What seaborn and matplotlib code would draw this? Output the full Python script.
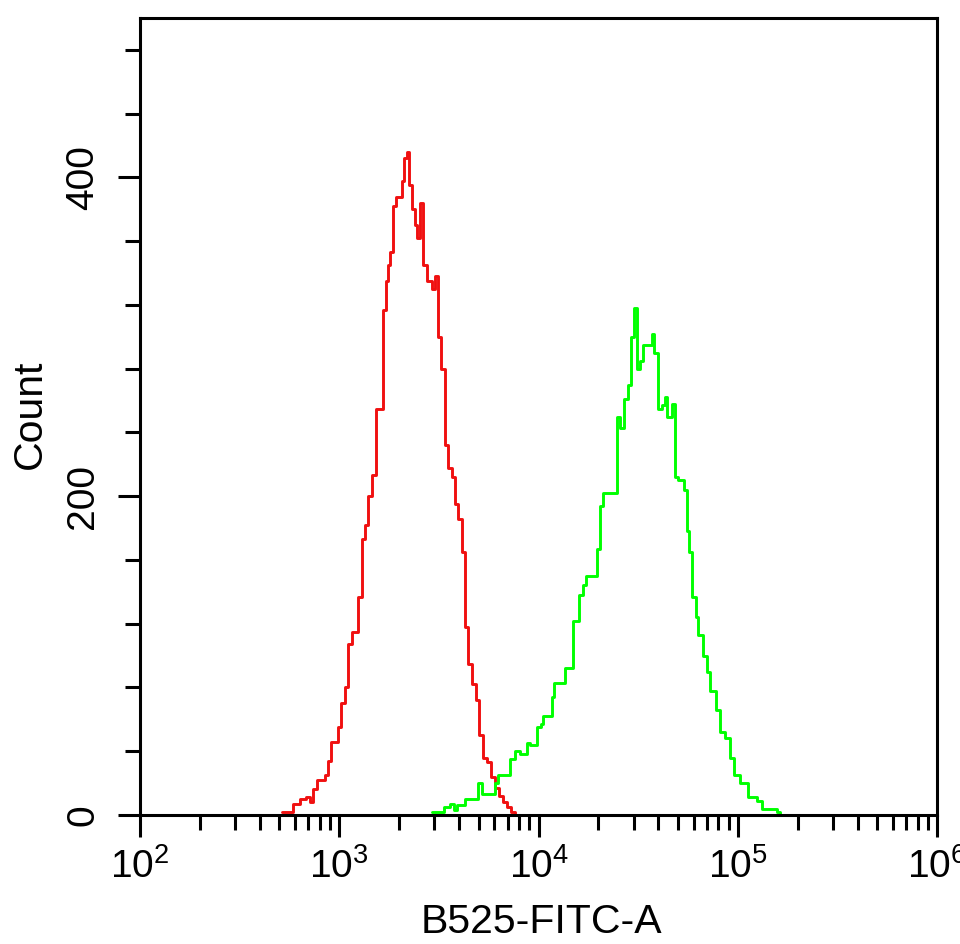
import matplotlib
matplotlib.use("Agg")
import matplotlib.pyplot as plt
import seaborn as sns
import numpy as np
import pandas as pd
from matplotlib.ticker import LogLocator, MultipleLocator, NullFormatter, FixedLocator

# ---- data (bin left edges in B525-FITC-A intensity, counts) ----
red_intensity = [516, 586, 635, 681, 713, 738, 773, 848, 878, 909, 986, 1020, 1069, 1106,
                 1159, 1242, 1301, 1347, 1394, 1460, 1529, 1658, 1716, 1757, 1798, 1861,
                 1927, 2065, 2113, 2188, 2239, 2318, 2400, 2456, 2543, 2633, 2757, 2922,
                 3024, 3131, 3241, 3394, 3514, 3681, 3810, 3945, 4132, 4278, 4430, 4638,
                 4857, 5029, 5266, 5514, 5775, 6047, 6334, 6633, 6947, 7278, 7623]
red_count = [2, 7, 10, 11, 8, 16, 22, 25, 34, 46, 55, 70, 80, 107,
             115, 137, 173, 182, 200, 213, 255, 317, 335, 345, 353, 382,
             388, 398, 412, 416, 395, 380, 370, 362, 384, 345, 335, 330,
             338, 300, 280, 232, 218, 212, 195, 186, 165, 118, 95, 82,
             72, 50, 36, 33, 24, 17, 12, 8, 5, 2, 0]

green_intensity = [2922, 3355, 3596, 3766, 3898, 4278, 4970, 5205, 6047, 6262, 7194, 7623,
                   8074, 8757, 9065, 9828, 10292, 10534, 11687, 11961, 13583, 14897, 15971,
                   16725, 17314, 19663, 20355, 21073, 24774, 25645, 26869, 28140, 29130,
                   30160, 31220, 32317, 33460, 37123, 37997, 39787, 41669, 43142, 44150,
                   46774, 48430, 50130, 53740, 55650, 56946, 58960, 61740, 63170, 66930,
                   70080, 72550, 77790, 81450, 86300, 91450, 95760, 102640, 112560, 124900,
                   132300, 157400, 162900]
green_count = [2, 5, 7, 3, 6, 10, 20, 13, 20, 25, 35, 40,
               38, 45, 44, 55, 57, 62, 74, 83, 92, 122, 138,
               144, 150, 167, 194, 202, 250, 243, 261, 270, 300,
               318, 280, 285, 295, 302, 290, 255, 257, 262, 250,
               258, 212, 210, 204, 178, 165, 137, 124, 113, 100,
               90, 78, 66, 52, 48, 36, 25, 20, 11, 9,
               4, 2, 0]

x_ticks = [1e2, 1e3, 1e4, 1e5, 1e6]
x_ticklabels = ["$10^{2}$", "$10^{3}$", "$10^{4}$", "$10^{5}$", "$10^{6}$"]
y_ticks = [0, 200, 400]
y_ticklabels = ["0", "200", "400"]

df = pd.concat([
    pd.DataFrame({"intensity": red_intensity, "count": red_count, "sample": "control"}),
    pd.DataFrame({"intensity": green_intensity, "count": green_count, "sample": "stained"}),
], ignore_index=True)

sns.set_style("ticks")
plt.rcParams["font.family"] = ["Liberation Sans", "DejaVu Sans"]
plt.rcParams["mathtext.fontset"] = "custom"
plt.rcParams["mathtext.rm"] = "Liberation Sans"
plt.rcParams["mathtext.it"] = "Liberation Sans"
plt.rcParams["mathtext.bf"] = "Liberation Sans"
plt.rcParams["mathtext.default"] = "regular"
for k in ["text.color", "axes.labelcolor", "xtick.color", "ytick.color", "axes.edgecolor"]:
    plt.rcParams[k] = "black"

fig = plt.figure(figsize=(9.6, 9.44), dpi=100)
ax = fig.add_axes([140 / 960, 1 - 815 / 944, (937 - 140) / 960, (815 - 18) / 944])
ax.set_xscale("log")

sns.lineplot(data=df, x="intensity", y="count", hue="sample",
             palette={"control": "#f01010", "stained": "#00ff00"},
             drawstyle="steps-post", linewidth=2.1, estimator=None,
             legend=False, ax=ax)

ax.set_xlim(1e2, 1e6)
ax.set_ylim(0, 500)

ax.xaxis.set_major_locator(FixedLocator(x_ticks))
ax.set_xticklabels(x_ticklabels)
ax.xaxis.set_minor_locator(LogLocator(base=10, subs=np.arange(2, 10), numticks=50))
ax.xaxis.set_minor_formatter(NullFormatter())

ax.yaxis.set_major_locator(FixedLocator(y_ticks))
ax.set_yticklabels(y_ticklabels)
ax.yaxis.set_minor_locator(MultipleLocator(40))

ax.tick_params(which="major", length=16, width=2.2, direction="out", color="black",
               labelsize=28, labelcolor="black")
ax.tick_params(which="minor", length=11, width=2.2, direction="out", color="black")
ax.tick_params(axis="x", which="major", pad=8)
ax.tick_params(axis="y", which="major", pad=12, labelrotation=90)
for lab in ax.get_yticklabels():
    lab.set_va("center")

for s in ax.spines.values():
    s.set_linewidth(2.2)
    s.set_color("black")

ax.set_xlabel("B525-FITC-A", fontsize=29.5, va="center", color="black")
ax.xaxis.set_label_coords((541 - 140) / 797, (815 - 922) / 797)
ax.set_ylabel("Count", fontsize=29.5, va="center", color="black")
ax.yaxis.set_label_coords((30 - 140) / 797, 0.503)

fig.savefig("out.png", dpi=100)
